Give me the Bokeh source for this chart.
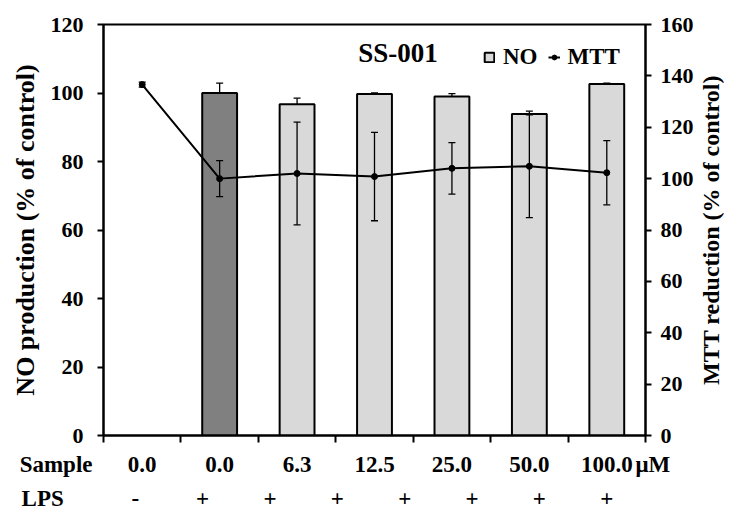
import math
from bokeh.plotting import figure
from bokeh.layouts import column
from bokeh.models import (Range1d, LinearAxis, FixedTicker, Whisker, ColumnDataSource,
                          Label, Legend, LegendItem, TeeHead)
from bokeh.core.properties import value
from bokeh.embed import file_html
from bokeh.resources import INLINE
import numpy as np

# ---- data ----
sample_labels = ["0.0", "0.0", "6.3", "12.5", "25.0", "50.0", "100.0"]
lps_labels = ["-", "+", "+", "+", "+", "+", "+", "+"]
no_values = [np.nan, 100.0, 96.7, 99.7, 99.0, 93.9, 102.6]
no_errors = [np.nan, 2.9, 1.8, 0.3, 0.8, 0.8, 0.3]
mtt_values = [136.6, 100.0, 102.0, 100.8, 104.0, 104.8, 102.3]
mtt_errors = [1.0, 7.0, 20.0, 17.2, 10.0, 20.0, 12.5]
left_ticks = [0, 20, 40, 60, 80, 100, 120]
right_ticks = [0, 20, 40, 60, 80, 100, 120, 140, 160]

FONT = "Liberation Serif"
n = len(sample_labels)
xc = np.arange(n) + 0.5

W = 724
FL, FR, FT, FB = 103, 645, 24, 435   # frame box in pixels
H1 = 449
H2 = 62
ppu = (FR - FL) / n

p = figure(width=W, height=H1, output_backend="svg", toolbar_location=None,
           x_range=Range1d(0, n), y_range=Range1d(0, 120),
           min_border_left=FL, min_border_right=W - FR, min_border_top=FT,
           min_border_bottom=H1 - FB)
p.background_fill_color = "white"
p.border_fill_color = "white"
p.outline_line_color = "black"
p.outline_line_width = 2
p.xgrid.visible = False
p.ygrid.visible = False
p.extra_y_ranges = {"mtt": Range1d(0, 160)}


def style_axis(ax, lab_size="26px"):
    ax.axis_line_color = "black"
    ax.axis_line_width = 2
    ax.major_tick_line_width = 2
    ax.major_tick_in = 0
    ax.major_tick_out = 6
    ax.minor_tick_line_color = None
    ax.major_label_text_font = FONT
    ax.major_label_text_font_style = "bold"
    ax.major_label_text_font_size = "22px"
    ax.major_label_text_color = "black"
    ax.axis_label_text_font = FONT
    ax.axis_label_text_font_style = "bold"
    ax.axis_label_text_font_size = lab_size
    ax.axis_label_text_color = "black"


ya = p.yaxis[0]
ya.ticker = FixedTicker(ticks=left_ticks)
ya.axis_label = "NO production (% of control)"
style_axis(ya)
ya.major_label_standoff = 14
ya.axis_label_standoff = 8

ra = LinearAxis(y_range_name="mtt", ticker=FixedTicker(ticks=right_ticks))
style_axis(ra)
ra.major_label_standoff = 9
p.add_layout(ra, "right")

# right-hand axis title, reading bottom-to-top, in the right side panel
p.add_layout(Label(x=(710 - FL) / ppu, y=60, text="MTT reduction (% of control)",
                   angle=math.pi / 2, text_align="center", text_baseline="middle",
                   text_font=FONT, text_font_style="bold", text_font_size="24px",
                   text_color="black"), "right")

xa = p.xaxis[0]
xa.ticker = FixedTicker(ticks=list(range(n + 1)))
style_axis(xa)
xa.major_tick_out = 7
xa.major_label_standoff = 0
xa.major_label_overrides = {i: "" for i in range(n + 1)}
xa.major_label_text_font_size = "0px"

# bars
ctrl = ColumnDataSource(dict(x=[xc[1]], top=[no_values[1]]))
rest_idx = list(range(2, n))
rest = ColumnDataSource(dict(x=[xc[i] for i in rest_idx], top=[no_values[i] for i in rest_idx]))
p.vbar(x="x", top="top", width=0.45, source=ctrl, fill_color="#808080",
       line_color="black", line_width=2)
r_no = p.vbar(x="x", top="top", width=0.45, source=rest, fill_color="#d9d9d9",
              line_color="black", line_width=2)

# NO error bars (upper half only)
idx = [i for i in range(n) if not np.isnan(no_values[i])]
no_err_src = ColumnDataSource(dict(x=[xc[i] for i in idx],
                                   lower=[no_values[i] for i in idx],
                                   upper=[no_values[i] + no_errors[i] for i in idx]))
p.add_layout(Whisker(source=no_err_src, base="x", lower="lower", upper="upper",
                     dimension="height", line_color="black", line_width=1.3,
                     upper_head=TeeHead(size=7, line_width=1.3, line_color="black"),
                     lower_head=None, level="overlay"))

# MTT line
mtt_src = ColumnDataSource(dict(x=xc, y=mtt_values,
                                lower=np.array(mtt_values) - np.array(mtt_errors),
                                upper=np.array(mtt_values) + np.array(mtt_errors)))
r_line = p.line("x", "y", source=mtt_src, y_range_name="mtt", line_color="black", line_width=2)
r_pts = p.scatter("x", "y", source=mtt_src, y_range_name="mtt", marker="circle", size=6,
                  fill_color="black", line_color="black")
p.add_layout(Whisker(source=mtt_src, base="x", lower="lower", upper="upper",
                     dimension="height", y_range_name="mtt", line_color="black", line_width=1.3,
                     upper_head=TeeHead(size=7, line_width=1.3, line_color="black"),
                     lower_head=TeeHead(size=7, line_width=1.3, line_color="black"),
                     level="overlay"))

# legend
legend = Legend(items=[LegendItem(label="NO", renderers=[r_no]),
                       LegendItem(label="MTT", renderers=[r_line, r_pts])],
                orientation="horizontal", location=(380, 365),
                padding=0, margin=0, spacing=10, label_standoff=8,
                glyph_width=12, glyph_height=12,
                border_line_color=None, background_fill_alpha=0,
                label_text_font=FONT, label_text_font_style="bold",
                label_text_font_size="23px", label_text_color="black")
p.add_layout(legend)

p.add_layout(Label(x=3.29, y=111.8, text="SS-001", text_font=FONT, text_font_style="bold",
                   text_font_size="27px", text_baseline="middle", text_align="left",
                   text_color="black"))

# ---- rows of labels below the chart (Sample / LPS) ----
SAMPLE_Y = 15
LPS_Y = 49
p2 = figure(width=W, height=H2, output_backend="svg", toolbar_location=None,
            x_range=Range1d(0, n), y_range=Range1d(H2, 0),
            min_border_left=FL, min_border_right=W - FR,
            min_border_top=0, min_border_bottom=0)
p2.xaxis.visible = False
p2.grid.visible = False
p2.outline_line_color = None
p2.background_fill_color = "white"
p2.border_fill_color = "white"


def row_axis(ax, ticks, labels, standoff):
    ax.ticker = FixedTicker(ticks=ticks)
    ax.major_label_overrides = dict(zip(ticks, labels))
    ax.axis_line_color = None
    ax.major_tick_line_color = None
    ax.minor_tick_line_color = None
    ax.major_tick_out = 0
    ax.major_tick_in = 0
    ax.major_label_standoff = standoff
    ax.major_label_text_font = FONT
    ax.major_label_text_font_style = "bold"
    ax.major_label_text_font_size = "23px"
    ax.major_label_text_color = "black"


row_axis(p2.yaxis[0], [SAMPLE_Y, LPS_Y], ["Sample", "LPS" + "\u00a0" * 5], 11)
r2 = LinearAxis(ticker=FixedTicker(ticks=[SAMPLE_Y]))
row_axis(r2, [SAMPLE_Y], ["\u03bcM"], -10)
p2.add_layout(r2, "right")

txt = dict(text_font=value(FONT), text_font_style="bold", text_font_size="23px",
           text_baseline="middle", text_color="black", text_align="center")
sample_src = ColumnDataSource(dict(x=xc, y=[SAMPLE_Y] * n, text=sample_labels))
p2.text(x="x", y="y", text="text", source=sample_src, **txt)
lps_x = np.linspace(0.41, 6.5, len(lps_labels))
lps_src = ColumnDataSource(dict(x=lps_x, y=[LPS_Y] * len(lps_labels), text=lps_labels))
p2.text(x="x", y="y", text="text", source=lps_src, **txt)

layout = column(p, p2, spacing=0)
open("out.html", "w").write(file_html(layout, INLINE))
